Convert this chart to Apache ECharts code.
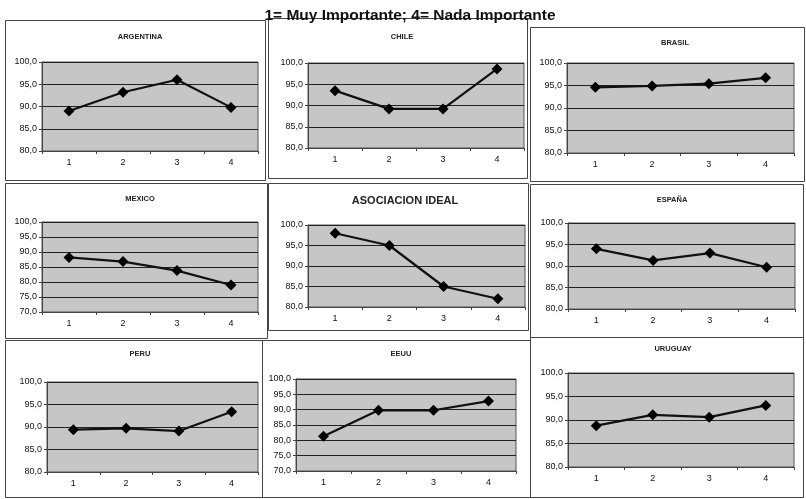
<!DOCTYPE html>
<html>
<head>
<meta charset="utf-8">
<script src="https://cdn.jsdelivr.net/npm/echarts@6/dist/echarts.min.js"></script>
<style>
html,body{margin:0;padding:0;background:#fff;}
#c{width:806px;height:499px;}
</style>
</head>
<body>
<div id="c"></div>
<script>
const mainTitle = '1= Muy Importante; 4= Nada Importante';
const categories = ['1', '2', '3', '4'];
const panelNames = ['ARGENTINA', 'CHILE', 'BRASIL', 'MEXICO', 'ASOCIACION IDEAL', 'ESPAÑA', 'PERU', 'EEUU', 'URUGUAY'];
const argentina = [89.0, 93.2, 96.0, 89.8];
const chile = [93.5, 89.2, 89.2, 98.6];
const brasil = [94.6, 94.9, 95.4, 96.7];
const mexico = [88.2, 86.8, 83.8, 79.0];
const asociacionIdeal = [98.0, 95.0, 85.0, 82.0];
const espana = [94.0, 91.3, 93.0, 89.7];
const peru = [89.4, 89.7, 89.1, 93.4];
const eeuu = [81.3, 89.8, 89.8, 92.8];
const uruguay = [88.8, 91.1, 90.6, 93.1];
const yMins = [80, 80, 80, 70, 80, 80, 80, 70, 80];
const yMax = 100;
const yStep = 5;

const seriesData = [argentina, chile, brasil, mexico, asociacionIdeal, espana, peru, eeuu, uruguay];

// layout (pixels)
const grids = [
  {left: 42, top: 62, width: 216, height: 89},
  {left: 308, top: 63, width: 216, height: 85},
  {left: 567, top: 63, width: 227, height: 90},
  {left: 42, top: 222, width: 216, height: 90},
  {left: 308, top: 225, width: 217, height: 82},
  {left: 568, top: 223, width: 227, height: 86},
  {left: 47, top: 382, width: 211, height: 90},
  {left: 296, top: 379, width: 220, height: 92},
  {left: 568, top: 373, width: 226, height: 94}
];
const titlePos = [[135, 28], [397, 28], [670, 34], [135, 190], [400, 190], [667, 191], [135, 345], [396, 345], [668, 340]];
const boxes = [
  [5, 20, 260, 160], [268, 18, 259, 160], [530, 27, 274, 154],
  [5, 183, 262, 155], [268, 183, 260, 147], [530, 184, 273, 153],
  [5, 340, 257, 157], [262, 340, 268, 157], [530, 337, 273, 160]
];

const fmt = v => v.toFixed(1).replace('.', ',');
const font = 'Liberation Sans, Arial, sans-serif';

const option = {
  animation: false,
  backgroundColor: '#fff',
  title: [{
    text: mainTitle, left: 405, top: 3, textAlign: 'center',
    textStyle: {fontFamily: font, fontSize: 15.5, fontWeight: 'bold', color: '#111'}
  }].concat(panelNames.map((n, i) => ({
    text: n, left: titlePos[i][0], top: titlePos[i][1], textAlign: 'center',
    textStyle: {fontFamily: font, fontSize: i === 4 ? 11 : 7.5, fontWeight: 'bold', color: '#222'}
  }))),
  graphic: boxes.map(b => ({
    type: 'rect', shape: {x: b[0] + 0.5, y: b[1] + 0.5, width: b[2], height: b[3]},
    style: {fill: 'none', stroke: '#444', lineWidth: 1}, z: 0
  })),
  grid: grids.map(g => Object.assign({show: true, backgroundColor: '#c6c6c6', borderColor: '#555', borderWidth: 1}, g)),
  xAxis: grids.map((g, i) => ({
    type: 'category', gridIndex: i, data: categories, boundaryGap: true,
    axisLine: {show: true, lineStyle: {color: '#444', width: 1}},
    axisTick: {show: true, length: 3, lineStyle: {color: '#444'}},
    axisLabel: {fontFamily: font, fontSize: 9, color: '#111', margin: 7}
  })),
  yAxis: grids.map((g, i) => ({
    type: 'value', gridIndex: i, min: yMins[i], max: yMax, interval: yStep,
    axisLine: {show: true, lineStyle: {color: '#444', width: 1}},
    axisTick: {show: true, length: 3, lineStyle: {color: '#444'}},
    axisLabel: {fontFamily: font, fontSize: 9, color: '#111', margin: 5, formatter: fmt},
    splitLine: {show: true, lineStyle: {color: '#222', width: 1}}
  })),
  series: seriesData.map((d, i) => ({
    type: 'line', xAxisIndex: i, yAxisIndex: i, data: d,
    symbol: 'diamond', symbolSize: 11, showSymbol: true,
    lineStyle: {color: '#111', width: 2.2},
    itemStyle: {color: '#000'}
  }))
};

const chart = echarts.init(document.getElementById('c'));
chart.setOption(option);
</script>
</body>
</html>
